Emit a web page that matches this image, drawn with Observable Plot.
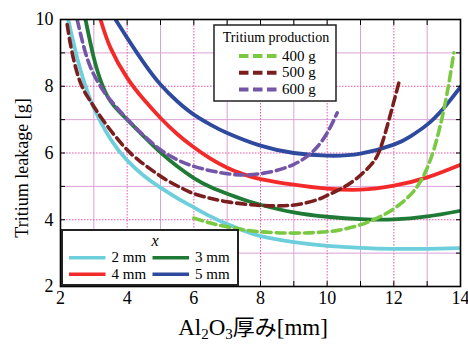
<!DOCTYPE html>
<html><head><meta charset="utf-8">
<script src="https://cdn.jsdelivr.net/npm/d3@7"></script>
<script src="https://cdn.jsdelivr.net/npm/@observablehq/plot@0.6"></script>
<style>
body{margin:0;background:#fff;}
#wrap{position:relative;width:468px;height:349px;font-family:"Liberation Serif","Times New Roman",serif;}
#wrap svg.overlay{position:absolute;left:0;top:0;}
</style></head><body><div id="wrap"></div>
<script>
// ---- data ----
const xTickLabels = [2, 4, 6, 8, 10, 12, 14];
const yTickLabels = [2, 4, 6, 8, 10];
const xAllTicks = [2, 3, 4, 5, 6, 7, 8, 9, 10, 11, 12, 13, 14];
const yAllTicks = [2, 3, 4, 5, 6, 7, 8, 9, 10];
const xMinorGrid = [3, 5, 7, 9, 11, 13];
const xMajorGrid = [4, 6, 8, 10, 12];
const yMinorGrid = [3, 5, 7, 9];
const yMajorGrid = [4, 6, 8];

const thicknessLabels = ["2 mm", "3 mm", "4 mm", "5 mm"];
const productionLabels = ["400 g", "500 g", "600 g"];

const x2mm = [2.23, 2.5, 2.75, 3.0, 3.5, 4.0, 4.5, 5.0, 5.5, 6.0, 6.5, 7.0, 7.5, 8.0, 9.0, 10.0, 11.0, 12.0, 13.0, 14.0];
const y2mm = [10, 8.85, 8.0, 7.35, 6.42, 5.78, 5.32, 4.96, 4.65, 4.37, 4.1, 3.87, 3.67, 3.51, 3.33, 3.22, 3.16, 3.13, 3.13, 3.15];

const x3mm = [2.75, 3.0, 3.25, 3.5, 3.75, 4.0, 4.5, 5.0, 5.5, 6.0, 6.5, 7.0, 7.5, 8.0, 9.0, 10.0, 11.0, 12.0, 13.0, 14.0];
const y3mm = [10, 8.85, 8.05, 7.55, 7.25, 7.0, 6.5, 6.02, 5.6, 5.25, 4.98, 4.78, 4.6, 4.45, 4.22, 4.09, 4.02, 4.01, 4.1, 4.27];

const x4mm = [3.2, 3.5, 4.0, 4.5, 5.0, 5.5, 6.0, 6.5, 7.0, 7.5, 8.0, 9.0, 10.0, 11.0, 12.0, 13.0, 14.0];
const y4mm = [10, 9.15, 8.25, 7.6, 7.05, 6.57, 6.17, 5.83, 5.56, 5.36, 5.22, 5.05, 4.93, 4.9, 5.02, 5.27, 5.65];

const x5mm = [3.65, 4.0, 4.5, 5.0, 5.5, 6.0, 6.5, 7.0, 8.0, 9.0, 10.0, 11.0, 12.0, 12.5, 13.0, 13.5, 14.0];
const y5mm = [10, 9.45, 8.7, 8.05, 7.55, 7.15, 6.85, 6.6, 6.22, 6.0, 5.92, 5.98, 6.25, 6.5, 6.85, 7.35, 7.98];

const x400g = [6.0, 6.5, 7.0, 7.5, 8.0, 9.0, 10.0, 10.5, 11.0, 11.5, 12.0, 12.5, 12.8, 13.0, 13.2, 13.4, 13.6, 13.8];
const y400g = [4.05, 3.9, 3.79, 3.7, 3.64, 3.6, 3.64, 3.72, 3.85, 4.05, 4.33, 4.75, 5.15, 5.55, 6.1, 6.85, 7.8, 9.0];

const x500g = [2.2, 2.35, 2.6, 2.9, 3.3, 3.9, 4.35, 4.75, 5.2, 5.65, 6.1, 7.0, 8.0, 8.7, 9.2, 9.7, 10.0, 10.45, 10.9, 11.3, 11.55, 11.8, 12.15];
const y500g = [9.85, 9.0, 8.1, 7.55, 6.95, 6.2, 5.78, 5.48, 5.18, 4.94, 4.75, 4.54, 4.43, 4.42, 4.47, 4.6, 4.73, 4.95, 5.25, 5.63, 6.02, 6.8, 8.1];

const x600g = [2.5, 2.75, 3.0, 3.25, 3.5, 4.0, 4.5, 5.0, 5.5, 6.0, 6.5, 7.0, 7.5, 8.0, 8.5, 9.0, 9.4, 9.7, 10.0, 10.3];
const y600g = [10, 9.0, 8.35, 7.92, 7.58, 7.02, 6.52, 6.1, 5.8, 5.6, 5.47, 5.38, 5.34, 5.38, 5.48, 5.66, 5.9, 6.18, 6.6, 7.2];

const colors = {
  "2 mm": "#6dcfdb", "3 mm": "#1f7a35", "4 mm": "#f22a2a", "5 mm": "#2e4a9e",
  "400 g": "#7ac943", "500 g": "#7b1e1e", "600 g": "#7456a8"
};

function toRows(xs, ys, name) { return xs.map((x, i) => ({x, y: ys[i], name})); }
const solidSeries = [
  toRows(x2mm, y2mm, "2 mm"), toRows(x3mm, y3mm, "3 mm"),
  toRows(x4mm, y4mm, "4 mm"), toRows(x5mm, y5mm, "5 mm")
];
const dashedSeries = [
  toRows(x400g, y400g, "400 g"), toRows(x500g, y500g, "500 g"), toRows(x600g, y600g, "600 g")
];

const minorGridColor = "#d9a2d6";
const majorGridColor = "#ec52a8";

const plot = Plot.plot({
  width: 468, height: 349,
  marginLeft: 60, marginRight: 8, marginTop: 19, marginBottom: 63,
  style: {fontFamily: "'Liberation Serif', 'Times New Roman', serif", fontSize: "18px", color: "black", background: "white"},
  x: {domain: [2, 14]},
  y: {domain: [2, 10]},
  marks: [
    Plot.gridX(xMinorGrid, {stroke: minorGridColor, strokeOpacity: 1, strokeWidth: 1}),
    Plot.gridY(yMinorGrid, {stroke: minorGridColor, strokeOpacity: 1, strokeWidth: 1}),
    Plot.gridX(xMajorGrid, {stroke: majorGridColor, strokeOpacity: 1, strokeWidth: 1, strokeDasharray: "1.5,1.5"}),
    Plot.gridY(yMajorGrid, {stroke: majorGridColor, strokeOpacity: 1, strokeWidth: 1, strokeDasharray: "1.5,1.5"}),
    ...solidSeries.map(d => Plot.line(d, {x: "x", y: "y", stroke: colors[d[0].name], strokeWidth: 3.8, curve: "natural", clip: true})),
    ...dashedSeries.map(d => Plot.line(d, {x: "x", y: "y", stroke: colors[d[0].name], strokeWidth: 3.6, strokeDasharray: "9,5", curve: "natural", clip: true})),
    Plot.axisX(xTickLabels, {anchor: "bottom", tickSize: 0, tickPadding: 5, fontSize: 18, label: null}),
    Plot.axisY(yTickLabels, {anchor: "left", tickSize: 0, tickPadding: 7, fontSize: 18, label: null}),
    Plot.axisX(xAllTicks, {anchor: "bottom", tickSize: 5, dy: -5, tickFormat: () => "", label: null}),
    Plot.axisX(xAllTicks, {anchor: "top", tickSize: 5, dy: 5, tickFormat: () => "", label: null}),
    Plot.axisY(yAllTicks, {anchor: "left", tickSize: 5, dx: 5, tickFormat: () => "", label: null}),
    Plot.axisY(yAllTicks, {anchor: "right", tickSize: 5, dx: -5, tickFormat: () => "", label: null}),
    Plot.frame({stroke: "black", strokeWidth: 1.6})
  ]
});
const wrap = document.getElementById("wrap");
wrap.appendChild(plot);

// ---- overlay: axis titles and legends ----
const ov = d3.select(wrap).append("svg").attr("class", "overlay")
  .attr("width", 468).attr("height", 349)
  .style("font-family", "'Liberation Serif', 'Times New Roman', serif");

// y-axis title
ov.append("text").attr("transform", "translate(28,168) rotate(-90)")
  .attr("text-anchor", "middle").attr("font-size", 18).text("Tritium leakage [g]");

// x-axis title with subscripts
const xt = ov.append("text").attr("x", 253).attr("y", 335).attr("text-anchor", "middle").attr("font-size", 23);
xt.append("tspan").text("Al");
xt.append("tspan").attr("font-size", 15).attr("dy", 4).text("2");
xt.append("tspan").attr("dy", -4).text("O");
xt.append("tspan").attr("font-size", 15).attr("dy", 4).text("3");
xt.append("tspan").attr("dy", -4).style("font-family", "'Noto Sans CJK JP', sans-serif").attr("font-size", 22).text("厚み");
xt.append("tspan").text("[mm]");

// legend 1: Tritium production
const l1 = ov.append("g");
l1.append("rect").attr("x", 214).attr("y", 25).attr("width", 122).attr("height", 76)
  .attr("fill", "white").attr("stroke", "#222").attr("stroke-width", 1.5);
l1.append("text").attr("x", 276).attr("y", 42).attr("text-anchor", "middle").attr("font-size", 14).text("Tritium production");
productionLabels.forEach((lab, i) => {
  const cy = 56 + i * 16.7;
  l1.append("line").attr("x1", 239).attr("x2", 277).attr("y1", cy).attr("y2", cy)
    .attr("stroke", colors[lab]).attr("stroke-width", 4).attr("stroke-dasharray", "9.5,4.5");
  l1.append("text").attr("x", 282).attr("y", cy + 4.5).attr("font-size", 15).text(lab);
});

// legend 2: x
const l2 = ov.append("g");
l2.append("rect").attr("x", 62).attr("y", 230).attr("width", 176).attr("height", 55)
  .attr("fill", "white").attr("stroke", "#222").attr("stroke-width", 2);
l2.append("text").attr("x", 155).attr("y", 246).attr("text-anchor", "middle").attr("font-size", 16)
  .attr("font-style", "italic").text("x");
thicknessLabels.forEach((lab, i) => {
  const col = i % 2, row = Math.floor(i / 2);
  const cy = 257.7 + row * 16.6;
  const x0 = col === 0 ? 69 : 152.5;
  l2.append("line").attr("x1", x0).attr("x2", x0 + 36.5).attr("y1", cy).attr("y2", cy)
    .attr("stroke", colors[lab]).attr("stroke-width", 3.6);
  l2.append("text").attr("x", x0 + 42.5).attr("y", cy + 4.5).attr("font-size", 15).text(lab);
});
</script></body></html>
